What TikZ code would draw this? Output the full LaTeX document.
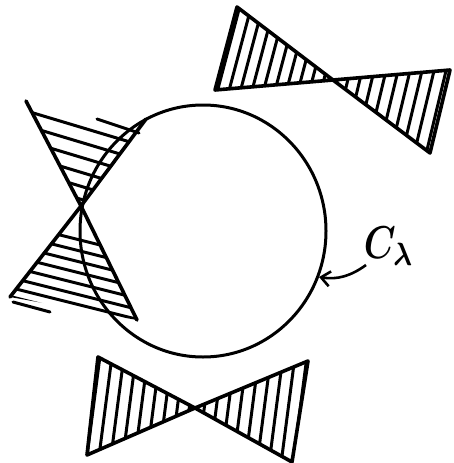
\documentclass[tikz,border=0pt]{standalone}
\usetikzlibrary{arrows.meta}
\begin{document}
\begin{tikzpicture}[x=1pt,y=-1pt,
  edge/.style={line width=3.6pt,line cap=round,line join=round},
  hatch/.style={line width=3pt,line cap=round},
  curve/.style={line width=3pt}]
\useasboundingbox (0,0) rectangle (453,463);

% ---------- top-right bow tie ----------
\coordinate (tA) at (237,7);
\coordinate (tB) at (215,90);
\coordinate (tV) at (333,80);
\coordinate (tC) at (450,70);
\coordinate (tD) at (430,153);
\begin{scope}
  \clip (tA) -- (tB) -- (tV) -- cycle;
  \foreach \x in {215,226.5,...,345} \draw[hatch] (\x-26.5,200) -- (\x+26.5,0);
\end{scope}
\begin{scope}
  \clip (tV) -- (tC) -- (tD) -- cycle;
  \foreach \x in {331,343,...,450} \draw[hatch] (\x-24,200) -- (\x+24,0);
\end{scope}
\draw[edge] (tA) -- (tV) -- (tB) -- cycle;
\draw[edge] (tC) -- (tV) -- (tD) -- cycle;

% ---------- bottom bow tie ----------
\coordinate (bP1) at (98,357);
\coordinate (bP2) at (87,455);
\coordinate (bV) at (195,408);
\coordinate (bQ1) at (308,361);
\coordinate (bQ2) at (292,462);
\begin{scope}
  \clip (bP1) -- (bP2) -- (bV) -- cycle;
  \foreach \x in {93,105,...,200} \draw[hatch] (\x-7.8,470) -- (\x+9.1,340);
\end{scope}
\begin{scope}
  \clip (bV) -- (bQ1) -- (bQ2) -- cycle;
  \foreach \x in {192,204,...,310} \draw[hatch] (\x-7.8,470) -- (\x+9.1,340);
\end{scope}
\draw[edge] (bP1) -- (bV) -- (bP2) -- cycle;
\draw[edge] (bQ1) -- (bV) -- (bQ2) -- cycle;

% ---------- left bow tie ----------
\coordinate (lV) at (81,206);
\coordinate (lL) at (26,101);
\coordinate (lR) at (146,119);
\coordinate (lBL) at (10,297);
\coordinate (lBR) at (137,320);
\begin{scope}
  \clip (lV) -- (lL) -- (97,116) -- (lR) -- cycle;
  \foreach \c in {103,118,133,148,162,175} \draw[hatch] (0,\c) -- (200,\c+60);
\end{scope}
\draw[hatch] (97,119) -- (139,133);
\begin{scope}
  \clip (lV) -- (lBL) -- (lBR) -- cycle;
  \foreach \c in {220,231,242,253,264,275,285,294} \draw[hatch] (0,\c) -- (200,\c+50);
\end{scope}
\draw[hatch] (13,302) -- (50,312);
\draw[edge] (lL) -- (lV) -- (lR);
\draw[edge] (lBL) -- (lV) -- (lBR);

% ---------- circle ----------
\draw[curve] (203,231) ellipse [x radius=123pt, y radius=126pt];

% ---------- label ----------
\node[xscale=3.6, yscale=4.6, inner sep=0pt, font=\boldmath] (lbl) at (389,246) {$C_{\lambda}$};
\coordinate (arrStart) at (366,265);
\coordinate (arrTip) at (319,277);
\draw[line width=2.6pt, -{Straight Barb[length=9pt,width=15pt,line width=2.6pt]}]
  (arrStart) .. controls (351,276) and (337,280) .. (arrTip);
\end{tikzpicture}
\end{document}
